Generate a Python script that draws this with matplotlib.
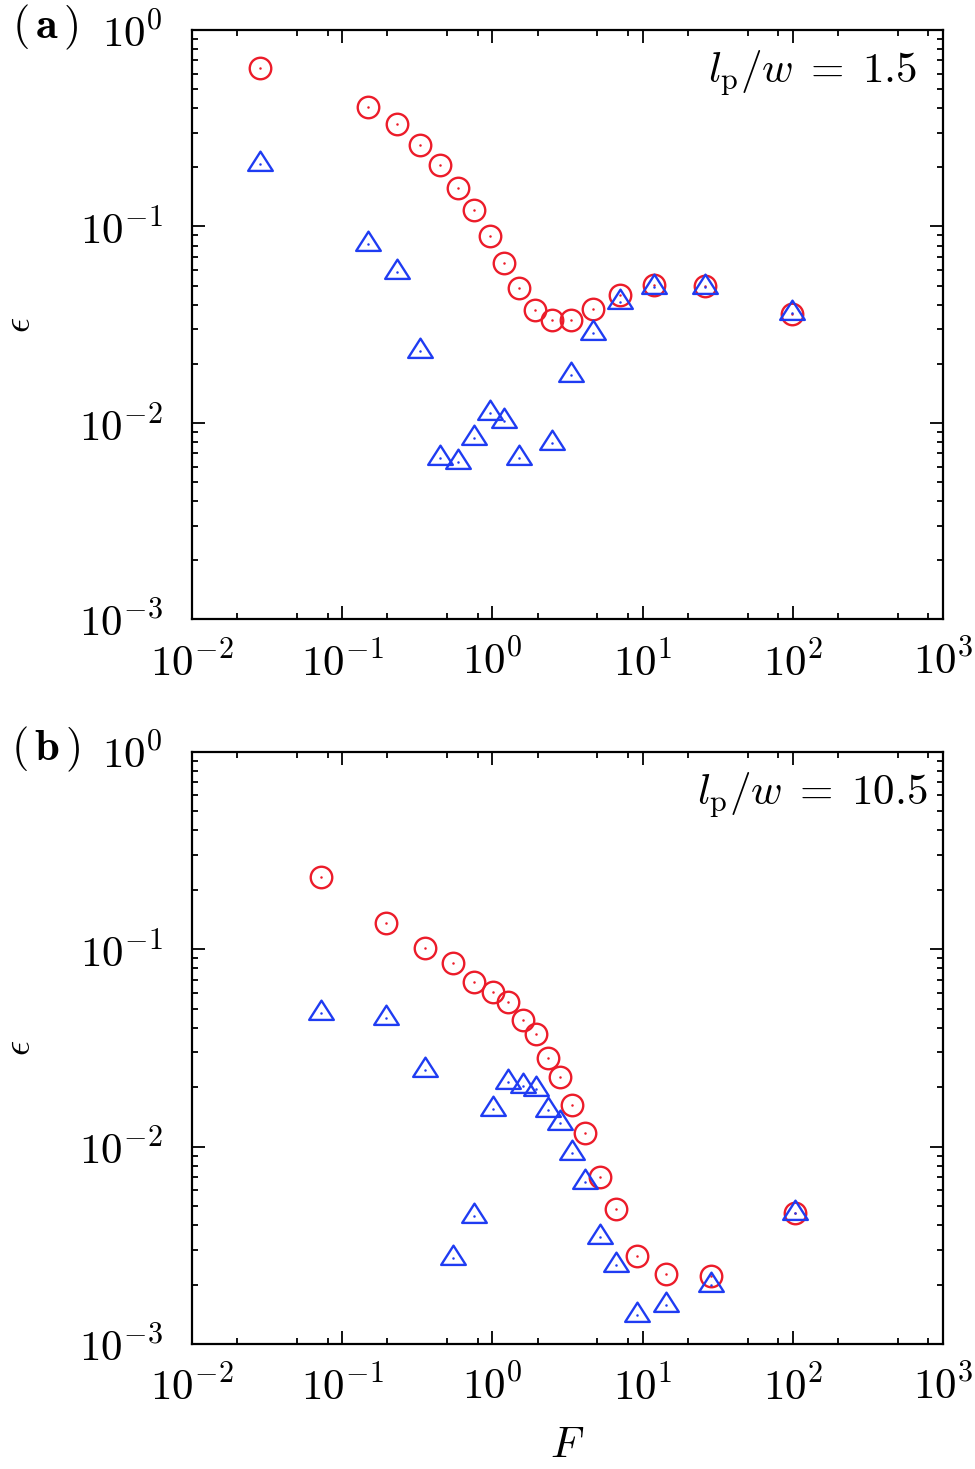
import matplotlib
matplotlib.use("Agg")
import matplotlib.pyplot as plt
import numpy as np
from matplotlib.path import Path
from matplotlib.ticker import LogLocator, NullFormatter

plt.rcParams['mathtext.fontset'] = 'cm'
plt.rcParams['font.family'] = ['serif']
plt.rcParams['font.serif'] = ['cmr10', 'DejaVu Serif']
plt.rcParams['axes.unicode_minus'] = False

# panel (a), l_p/w = 1.5
F_a = [0.0285, 0.148, 0.232, 0.332, 0.449, 0.592, 0.756, 0.961, 1.20, 1.51,
       1.93, 2.49, 3.32, 4.64, 7.03, 12.0, 25.9, 99.3]
circ_a = [0.638, 0.404, 0.333, 0.261, 0.206, 0.157, 0.1218, 0.0895, 0.0655, 0.0485,
          0.0377, 0.0334, 0.0334, 0.038, 0.0447, 0.0502, 0.0498, 0.0359]
tri_a = [0.207, 0.0812, 0.0587, 0.0232, 0.00666, 0.00635, 0.00836, 0.01128, 0.01027, 0.00666,
         np.nan, 0.00788, 0.01755, 0.0288, 0.0414, 0.0494, 0.0494, 0.0362]

# panel (b), l_p/w = 10.5
F_b = [0.0718, 0.196, 0.355, 0.544, 0.757, 1.003, 1.28, 1.595, 1.945, 2.35,
       2.84, 3.41, 4.16, 5.18, 6.68, 9.22, 14.4, 28.6, 104.0]
circ_b = [0.232, 0.136, 0.1014, 0.0855, 0.0682, 0.0607, 0.0538, 0.0436, 0.0371, 0.0282,
          0.0226, 0.0163, 0.0117, 0.00705, 0.00483, 0.0028, 0.00225, 0.0022, 0.00462]
tri_b = [0.0474, 0.0447, 0.0245, 0.00272, 0.00446, 0.0155, 0.0213, 0.0202, 0.0196, 0.0154,
         0.0132, 0.00929, 0.0066, 0.0035, 0.00251, 0.0014, 0.00157, 0.00198, 0.00462]

xticks = [1e-2, 1e-1, 1e0, 1e1, 1e2, 1e3]
xlabels = [r'$10^{-2}$', r'$10^{-1}$', r'$10^{0}$', r'$10^{1}$', r'$10^{2}$', r'$10^{3}$']
yticks = [1e-3, 1e-2, 1e-1, 1e0]
ylabels = [r'$10^{-3}$', r'$10^{-2}$', r'$10^{-1}$', r'$10^{0}$']

red = '#ec1c2a'
blue = '#1f3cf2'
fs = 31

# triangle with its centroid at the origin
tri_marker = Path([(0, 2/3), (-0.64, -1/3), (0.64, -1/3), (0, 2/3)],
                  [Path.MOVETO, Path.LINETO, Path.LINETO, Path.CLOSEPOLY])

fig = plt.figure(figsize=(9.75, 14.69), dpi=100)
ax1 = fig.add_axes([0.1969, 0.5783, 0.7703, 0.4013])
ax2 = fig.add_axes([0.1969, 0.0851, 0.7703, 0.4032])

panels = [(ax1, F_a, circ_a, tri_a, r'$l_\mathrm{p}/w\;=\;1.5$', 0.9654, r'$(\,\mathbf{a}\,)$'),
          (ax2, F_b, circ_b, tri_b, r'$l_\mathrm{p}/w\;=\;10.5$', 0.9787, r'$(\,\mathbf{b}\,)$')]

for ax, F, c, t, txt, tx, lab in panels:
    ax.plot(F, c, ls='none', marker='o', ms=15.5, mfc='none', mec=red, mew=1.7)
    ax.plot(F, c, ls='none', marker='o', ms=1.8, color=red, mew=0)
    ax.plot(F, t, ls='none', marker=tri_marker, ms=18.5, mfc='none', mec=blue, mew=1.7)
    ax.plot(F, t, ls='none', marker='o', ms=1.8, color=blue, mew=0)
    ax.set_xscale('log')
    ax.set_yscale('log')
    ax.set_xlim(1e-2, 1e3)
    ax.set_ylim(1e-3, 1e0)
    ax.set_xticks(xticks, labels=xlabels)
    ax.set_yticks(yticks, labels=ylabels)
    ax.xaxis.set_minor_locator(LogLocator(base=10, subs=[2, 5, 8]))
    ax.yaxis.set_minor_locator(LogLocator(base=10, subs=np.arange(2, 10)))
    ax.xaxis.set_minor_formatter(NullFormatter())
    ax.yaxis.set_minor_formatter(NullFormatter())
    ax.tick_params(which='both', direction='in', top=True, right=True, width=1.3, labelsize=fs)
    ax.tick_params(which='major', length=9.5)
    ax.tick_params(which='minor', length=4.5)
    ax.tick_params(axis='x', which='major', pad=15)
    ax.tick_params(axis='y', which='major', pad=21)
    for s in ax.spines.values():
        s.set_linewidth(1.6)
    ax.text(tx, 0.91, txt, transform=ax.transAxes, ha='right', va='baseline', fontsize=fs)
    ax.set_ylabel(r'$\epsilon$', fontsize=fs - 4)
    ax.yaxis.label.set_va('center')
    ax.yaxis.set_label_coords(-0.229, 0.5)
    ax.text(-0.195, 1.004, lab, transform=ax.transAxes, ha='center', va='center', fontsize=fs + 1)

ax2.set_xlabel(r'$F$', fontsize=fs)
ax2.xaxis.label.set_va('center')
ax2.xaxis.set_label_coords(0.5, -0.172)

fig.savefig('out.png', dpi=100)
